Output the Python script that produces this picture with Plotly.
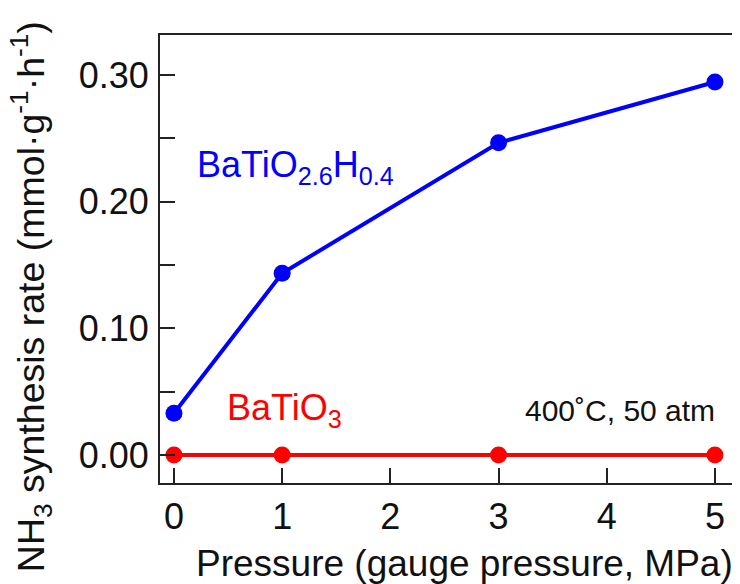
import plotly.graph_objects as go

pressure = [0, 1, 3, 5]
rate_hydride = [0.033, 0.1435, 0.2465, 0.2945]
rate_oxide = [0.0, 0.0, 0.0, 0.0]

x_ticks = [0, 1, 2, 3, 4, 5]
y_ticks = [0.0, 0.1, 0.2, 0.3]
y_tick_labels = ["0.00", "0.10", "0.20", "0.30"]

FONT = "Liberation Sans, Arial, sans-serif"
BLUE = "#0000ff"
RED = "#ff0000"

fig = go.Figure()
fig.add_trace(go.Scatter(x=pressure, y=rate_oxide, mode="lines+markers",
                         line=dict(color=RED, width=4),
                         marker=dict(color=RED, size=17), showlegend=False))
fig.add_trace(go.Scatter(x=pressure, y=rate_hydride, mode="lines+markers",
                         line=dict(color=BLUE, width=4),
                         marker=dict(color=BLUE, size=17), showlegend=False))

# page body has an 8px margin, so the figure is sized to fill the rest of the window
fig.update_layout(
    width=732, height=576,
    margin=dict(l=152, r=2, t=27, b=101),
    paper_bgcolor="white", plot_bgcolor="white",
    font=dict(family=FONT, color="black"),
)
fig.update_xaxes(range=[-0.129, 5.213], tickvals=x_ticks, automargin=False,
                 ticks="inside", ticklen=15, tickwidth=2, tickcolor="#222",
                 showline=True, linecolor="#222", linewidth=2, mirror=True,
                 showgrid=False, zeroline=False,
                 tickfont=dict(size=36, family=FONT, color="#111"),
                 ticklabelstandoff=1)
fig.update_yaxes(range=[-0.0221, 0.3316], tickvals=y_ticks, ticktext=y_tick_labels,
                 automargin=False,
                 ticks="inside", ticklen=15, tickwidth=2, tickcolor="#222",
                 minor=dict(dtick=0.05, tick0=0, ticks="inside", ticklen=15,
                            tickwidth=2, tickcolor="#222"),
                 showline=True, linecolor="#222", linewidth=2, mirror=True,
                 showgrid=False, zeroline=False,
                 tickfont=dict(size=36, family=FONT, color="#111"),
                 ticklabelstandoff=2)

fig.add_annotation(x=0.194, y=0.227, xref="x", yref="y",
                   text="BaTiO<sub>2.6</sub>H<sub>0.4</sub>", showarrow=False,
                   xanchor="left", yanchor="middle",
                   font=dict(size=36, color=BLUE, family=FONT))
fig.add_annotation(x=0.471, y=0.0355, xref="x", yref="y",
                   text="BaTiO<sub>3</sub>", showarrow=False,
                   xanchor="left", yanchor="middle",
                   font=dict(size=36, color=RED, family=FONT))
fig.add_annotation(x=5.018, y=0.0355, xref="x", yref="y",
                   text="400˚C, 50 atm", showarrow=False,
                   xanchor="right", yanchor="middle",
                   font=dict(size=30, color="#111", family=FONT))
fig.add_annotation(x=-0.224, y=0.416, xref="paper", yref="paper",
                   text="NH<sub>3</sub> synthesis rate (mmol·g<sup>-1</sup>·h<sup>-1</sup>)",
                   textangle=-90, showarrow=False,
                   xanchor="center", yanchor="middle",
                   font=dict(size=37.5, color="#111", family=FONT))
fig.add_annotation(x=0.527, y=-0.179, xref="paper", yref="paper",
                   text="Pressure (gauge pressure, MPa)", showarrow=False,
                   xanchor="center", yanchor="middle",
                   font=dict(size=37, color="#111", family=FONT))

fig.write_html("out.html")
